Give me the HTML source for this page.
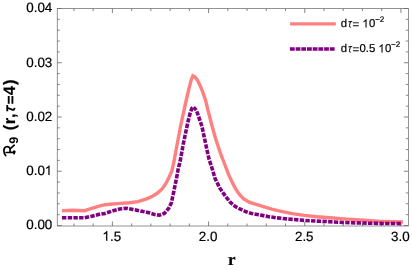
<!DOCTYPE html>
<html><head><meta charset="utf-8"><title>plot</title>
<style>
html,body{margin:0;padding:0;background:#fff;}
body{width:412px;height:270px;overflow:hidden;font-family:"Liberation Sans",sans-serif;}
svg{display:block;}
text{fill:#000;stroke:#000;stroke-width:0.2px;text-rendering:geometricPrecision;}
svg{will-change:transform;}
</style></head><body>
<svg width="412" height="270" viewBox="0 0 412 270">
<rect x="0" y="0" width="412" height="270" fill="#fff"/>
<rect x="57.25" y="8.5" width="351.1" height="217.5" fill="none" stroke="#666" stroke-width="0.7"/>
<path d="M73.93 226.0 v-2.5 M73.93 8.5 v2.5 M93.16 226.0 v-2.5 M93.16 8.5 v2.5 M112.40 226.0 v-4.5 M112.40 8.5 v4.5 M131.64 226.0 v-2.5 M131.64 8.5 v2.5 M150.87 226.0 v-2.5 M150.87 8.5 v2.5 M170.11 226.0 v-2.5 M170.11 8.5 v2.5 M189.34 226.0 v-2.5 M189.34 8.5 v2.5 M208.57 226.0 v-4.5 M208.57 8.5 v4.5 M227.81 226.0 v-2.5 M227.81 8.5 v2.5 M247.05 226.0 v-2.5 M247.05 8.5 v2.5 M266.28 226.0 v-2.5 M266.28 8.5 v2.5 M285.51 226.0 v-2.5 M285.51 8.5 v2.5 M304.75 226.0 v-4.5 M304.75 8.5 v4.5 M323.99 226.0 v-2.5 M323.99 8.5 v2.5 M343.22 226.0 v-2.5 M343.22 8.5 v2.5 M362.45 226.0 v-2.5 M362.45 8.5 v2.5 M381.69 226.0 v-2.5 M381.69 8.5 v2.5 M400.92 226.0 v-4.5 M400.92 8.5 v4.5 M57.25 225.50 h4.5 M408.35 225.50 h-4.5 M57.25 214.65 h2.5 M408.35 214.65 h-2.5 M57.25 203.80 h2.5 M408.35 203.80 h-2.5 M57.25 192.95 h2.5 M408.35 192.95 h-2.5 M57.25 182.10 h2.5 M408.35 182.10 h-2.5 M57.25 171.25 h4.5 M408.35 171.25 h-4.5 M57.25 160.40 h2.5 M408.35 160.40 h-2.5 M57.25 149.55 h2.5 M408.35 149.55 h-2.5 M57.25 138.70 h2.5 M408.35 138.70 h-2.5 M57.25 127.85 h2.5 M408.35 127.85 h-2.5 M57.25 117.00 h4.5 M408.35 117.00 h-4.5 M57.25 106.15 h2.5 M408.35 106.15 h-2.5 M57.25 95.30 h2.5 M408.35 95.30 h-2.5 M57.25 84.45 h2.5 M408.35 84.45 h-2.5 M57.25 73.60 h2.5 M408.35 73.60 h-2.5 M57.25 62.75 h4.5 M408.35 62.75 h-4.5 M57.25 51.90 h2.5 M408.35 51.90 h-2.5 M57.25 41.05 h2.5 M408.35 41.05 h-2.5 M57.25 30.20 h2.5 M408.35 30.20 h-2.5 M57.25 19.35 h2.5 M408.35 19.35 h-2.5 M57.25 8.50 h4.5 M408.35 8.50 h-4.5" fill="none" stroke="#666" stroke-width="0.8"/>
<path d="M63.7 210.7 L72.2 210.2 L84.4 210.7 L91.8 208.3 L99.1 206.1 L105.0 204.7 L110.0 204.2 L117.2 203.6 L129.4 202.8 L138.0 201.6 L146.6 198.9 L151.1 196.9 L157.2 193.3 L162.1 188.9 L165.8 183.7 L168.8 177.9 L171.9 170.6 L174.1 161.0 L177.1 144.5 L180.2 128.0 L184.3 108.8 L186.1 101.0 L188.6 90.0 L191.1 80.2 L192.9 75.9 L194.6 76.7 L196.3 78.5 L197.8 80.9 L199.3 83.9 L202.4 91.2 L205.5 100.0 L207.9 110.0 L212.2 126.5 L215.4 138.0 L220.9 154.5 L225.0 165.0 L228.4 174.2 L232.1 182.1 L235.2 188.2 L238.8 193.6 L243.4 198.6 L249.7 202.5 L257.0 204.7 L264.3 206.9 L271.7 209.1 L279.0 210.9 L285.0 212.1 L292.2 213.6 L304.4 215.4 L316.7 216.7 L330.0 217.8 L343.7 218.9 L360.0 220.0 L378.0 221.2 L401.3 222.0" fill="none" stroke="#ff8080" stroke-width="3.4" stroke-linecap="square" stroke-linejoin="miter"/>
<path d="M62.0 217.8 L84.4 217.8 L91.8 216.2 L100.3 214.0 L105.0 213.5 L112.3 211.0 L119.7 209.0 L126.4 208.2 L133.1 209.4 L141.7 211.2 L149.0 212.7 L154.6 214.6 L159.4 215.2 L164.3 213.4 L168.6 208.5 L171.3 203.0 L173.7 192.0 L176.2 179.8 L178.0 170.0 L180.2 161.0 L183.2 144.5 L185.8 132.0 L187.9 122.0 L190.1 113.4 L192.0 108.2 L193.6 107.2" fill="none" stroke="#800080" stroke-width="3.6" stroke-dasharray="4.4 1.3" stroke-dashoffset="0" stroke-linejoin="miter"/>
<path d="M401.1 223.6 L378.0 223.4 L360.0 223.0 L343.7 222.5 L330.0 221.7 L316.7 221.1 L304.4 220.4 L292.2 219.4 L285.0 218.7 L276.6 217.8 L268.0 216.6 L260.7 215.1 L253.3 213.9 L246.0 211.8 L239.9 209.0 L235.0 206.3 L230.5 202.5 L226.0 197.0 L219.9 188.2 L215.0 178.4 L212.9 171.0 L208.9 158.6 L205.8 144.5 L202.5 129.0 L201.3 124.4 L198.8 117.1 L196.4 110.2 L193.6 107.2" fill="none" stroke="#800080" stroke-width="3.6" stroke-dasharray="4.4 1.3" stroke-dashoffset="-0.2" stroke-linejoin="miter"/>
<path d="M290.1 23.8 H335.8" stroke="#ff8080" stroke-width="3.2" fill="none"/>
<path d="M289.9 49.05 H334.8" stroke="#800080" stroke-width="3.4" stroke-dasharray="4.8 0.9" fill="none"/>
<text x="26.22" y="229.30" style="font-family:'Liberation Sans',sans-serif;font-size:13.4px;">0.00</text>
<text x="26.22" y="175.05" style="font-family:'Liberation Sans',sans-serif;font-size:13.4px;">0.0</text><path transform="translate(44.55 175.05) scale(0.006543 -0.006543)" d="M763 0H583V1147Q518 1085 412.5 1023Q307 961 223 930V1104Q374 1175 487 1276Q600 1377 647 1472H763Z" fill="#000" stroke="#000" stroke-width="15.3"/>
<text x="26.22" y="120.80" style="font-family:'Liberation Sans',sans-serif;font-size:13.4px;">0.02</text>
<text x="26.22" y="66.55" style="font-family:'Liberation Sans',sans-serif;font-size:13.4px;">0.03</text>
<text x="26.22" y="12.30" style="font-family:'Liberation Sans',sans-serif;font-size:13.4px;">0.04</text>
<path transform="translate(102.29 240.70) scale(0.006543 -0.006543)" d="M763 0H583V1147Q518 1085 412.5 1023Q307 961 223 930V1104Q374 1175 487 1276Q600 1377 647 1472H763Z" fill="#000" stroke="#000" stroke-width="15.3"/><text x="110.04" y="240.70" style="font-family:'Liberation Sans',sans-serif;font-size:13.4px;">.5</text>
<text x="198.76" y="240.70" style="font-family:'Liberation Sans',sans-serif;font-size:13.4px;">2.0</text>
<text x="294.94" y="240.70" style="font-family:'Liberation Sans',sans-serif;font-size:13.4px;">2.5</text>
<text x="391.11" y="240.70" style="font-family:'Liberation Sans',sans-serif;font-size:13.4px;">3.0</text>
<text x="231.8" y="264.8" text-anchor="middle" style="font-family:'Liberation Serif',serif;font-weight:bold;font-size:17px">r</text>
<text x="340.80" y="27.40" style="font-family:'Liberation Sans',sans-serif;font-size:11.4px;">d</text><path transform="translate(348.0 27.4)" d="M0.35 -5.45 Q0.6 -5.75 1.2 -5.75 L4.25 -5.8 M2.35 -5.7 L1.5 -1.8 Q1.2 -0.1 2.75 -0.15" fill="none" stroke="#000" stroke-width="1.0" stroke-linecap="butt"/><text x="352.50" y="28.30" style="font-family:'Liberation Sans',sans-serif;font-size:11.4px;">=</text><path transform="translate(362.30 27.40) scale(0.005566 -0.005566)" d="M763 0H583V1147Q518 1085 412.5 1023Q307 961 223 930V1104Q374 1175 487 1276Q600 1377 647 1472H763Z" fill="#000" stroke="#000" stroke-width="18.0"/><text x="368.94" y="27.40" style="font-family:'Liberation Sans',sans-serif;font-size:11.4px;">0</text><text x="375.20" y="21.55" style="font-family:'Liberation Sans',sans-serif;font-size:8.0px;">−2</text>
<text x="340.80" y="52.40" style="font-family:'Liberation Sans',sans-serif;font-size:11.4px;">d</text><path transform="translate(348.0 52.4)" d="M0.35 -5.45 Q0.6 -5.75 1.2 -5.75 L4.25 -5.8 M2.35 -5.7 L1.5 -1.8 Q1.2 -0.1 2.75 -0.15" fill="none" stroke="#000" stroke-width="1.0" stroke-linecap="butt"/><text x="352.50" y="53.30" style="font-family:'Liberation Sans',sans-serif;font-size:11.4px;">=</text><text x="359.45" y="52.40" style="font-family:'Liberation Sans',sans-serif;font-size:11.4px;">0.5</text><path transform="translate(378.30 52.40) scale(0.005566 -0.005566)" d="M763 0H583V1147Q518 1085 412.5 1023Q307 961 223 930V1104Q374 1175 487 1276Q600 1377 647 1472H763Z" fill="#000" stroke="#000" stroke-width="18.0"/><text x="384.94" y="52.40" style="font-family:'Liberation Sans',sans-serif;font-size:11.4px;">0</text><text x="391.00" y="46.55" style="font-family:'Liberation Sans',sans-serif;font-size:8.0px;">−2</text>
<g transform="translate(15,156.7) rotate(-90)"><text y="0" style="font-family:'Liberation Sans',sans-serif;font-size:16.5px;font-weight:bold"><tspan x="26.4">(</tspan><tspan x="32.4">r</tspan><tspan x="38.6">,</tspan><tspan x="61.4">4</tspan><tspan x="71.6">)</tspan></text><text x="13.0" y="3.3" style="font-family:'Liberation Sans',sans-serif;font-size:12.6px;font-weight:bold;stroke-width:0">9</text></g>
<path d="M5.8 155.7 C4.8 154.6 4.0 153.2 3.9 151.2 C3.8 149.0 4.6 147.3 6.2 146.8 C7.9 146.3 9.6 147.2 10.1 148.9 M10.0 152.3 L10.1 148.8 L14.2 145.2 M6.2 152.5 L14.4 152.2 M13.9 151.1 L14.9 151.7 L14.0 153.7" fill="none" stroke="#000" stroke-width="1.7" stroke-linecap="round" stroke-linejoin="round"/>
<path d="M7.25 105.1 L7.25 111.3 M7.9 108.0 L12.7 109.8 Q14.2 110.2 14.6 107.9" fill="none" stroke="#000" stroke-width="1.85" stroke-linecap="butt" stroke-linejoin="round"/>
<path d="M8.7 95.9 V103.8 M12.4 95.9 V103.8" fill="none" stroke="#000" stroke-width="1.85"/>
</svg>
</body></html>
